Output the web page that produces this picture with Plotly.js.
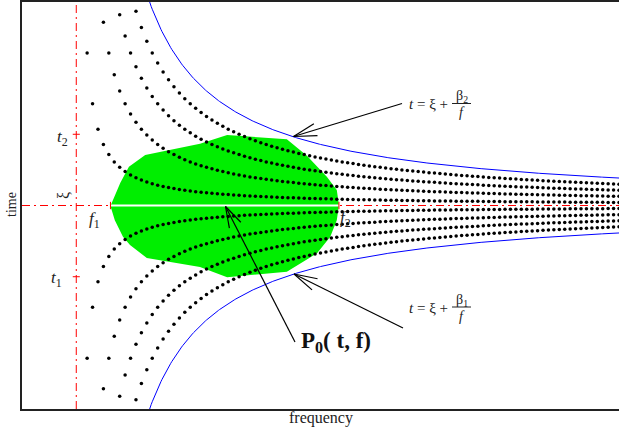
<!DOCTYPE html>
<html>
<head>
<meta charset="utf-8">
<script src="https://cdn.plot.ly/plotly-3.0.1.min.js"></script>
<style>
  html, body { margin: 0; padding: 0; background: #fff; }
  #chart { width: 619px; height: 433px; }
</style>
</head>
<body>
<div id="chart"></div>
<script>
// Dispersion sketch: curves t = xi + beta / f around the region P0(t, f).
const xi = 5;
const t1 = 3.25, t2 = 6.75;
const f1 = 0.63, f2 = 4.84;
const betaBlue = [6.75, -6.75];                    // beta2 (upper), beta1 (lower)
const betaDots = [0.75, 2.25, 3.75, 5.25, -0.75, -2.25, -3.75, -5.25];
const fDotStep = 0.1, fDotCount = 100;             // dots every 0.1 in f
const fLineStep = 0.02, fLineStart = 0.6;          // fine grid for the blue curves

const greenF = [0.63, 0.71, 0.81, 0.97, 1.27, 2.28, 2.78, 3.88, 4.25, 4.62, 4.80, 4.84,
                4.80, 4.68, 4.44, 3.88, 2.78, 2.28, 1.30, 0.99, 0.86, 0.71];
const greenT = [4.99, 5.26, 5.55, 5.95, 6.24, 6.52, 6.73, 6.63, 6.22, 5.70, 5.38, 5.01,
                4.64, 4.23, 3.83, 3.37, 3.24, 3.49, 3.71, 4.03, 4.23, 4.64];

const SERIF = "Liberation Serif";
// plot box in pixels, used to place labels / arrows
const L = 22, R = 619, T = 2, B = 409;
const px = X => (X - L) / (R - L);
const py = Y => (B - Y) / (B - T);

// the chart plots the labelled relation t = xi + beta / f
const curve = (beta, fs) => fs.map(f => xi + beta / f);
const fDots = Array.from({ length: fDotCount }, (_, i) => +((i + 1) * fDotStep).toFixed(2));
const fLine = [];
for (let f = fLineStart; f <= 10.01; f += fLineStep) fLine.push(f);

const traces = [];
traces.push({
  type: "scatter", mode: "lines", x: greenF, y: greenT, fill: "toself",
  fillcolor: "#00ee00", line: { width: 0, color: "#00ee00" }, hoverinfo: "skip",
});
for (const b of betaDots) {
  traces.push({
    type: "scatter", mode: "markers", x: fDots, y: curve(b, fDots),
    marker: { size: 3.5, color: "#000" }, hoverinfo: "skip",
  });
}
for (const b of betaBlue) {
  traces.push({
    type: "scatter", mode: "lines", x: fLine, y: curve(b, fLine),
    line: { color: "#0000ff", width: 1 }, hoverinfo: "skip",
  });
}

const RED = "#ff0000", DASH = "8px,4px,2px,4px";
const shapes = [
  { type: "line", xref: "x", yref: "y", x0: 0, x1: 0, y0: 0, y1: 10, line: { color: RED, width: 1, dash: DASH } },
  { type: "line", xref: "x", yref: "y", x0: -1, x1: 10, y0: xi, y1: xi, line: { color: RED, width: 1, dash: DASH } },
  { type: "line", xref: "x", yref: "y", x0: f1, x1: f2, y0: xi, y1: xi, line: { color: "#fff", width: 2 } },
  { type: "line", xref: "x", yref: "y", x0: -0.065, x1: 0.065, y0: t2, y1: t2, line: { color: RED, width: 1 } },
  { type: "line", xref: "x", yref: "y", x0: -0.065, x1: 0.065, y0: t1, y1: t1, line: { color: RED, width: 1 } },
  { type: "line", xref: "x", yref: "y", x0: f1, x1: f1, y0: xi - 0.09, y1: xi + 0.09, line: { color: RED, width: 1 } },
  { type: "line", xref: "x", yref: "y", x0: f2, x1: f2, y0: xi - 0.09, y1: xi + 0.09, line: { color: RED, width: 1 } },
];

// open V arrows, tail -> tip, in pixels
function arrow(x0, y0, x1, y1, len, deg) {
  const a = Math.atan2(y0 - y1, x0 - x1), s = deg * Math.PI / 180;
  const seg = (ax, ay, bx, by) => ({
    type: "line", xref: "paper", yref: "paper",
    x0: px(ax), y0: py(ay), x1: px(bx), y1: py(by), line: { color: "#000", width: 1.2 },
  });
  return [
    seg(x0, y0, x1, y1),
    seg(x1, y1, x1 + len * Math.cos(a + s), y1 + len * Math.sin(a + s)),
    seg(x1, y1, x1 + len * Math.cos(a - s), y1 + len * Math.sin(a - s)),
  ];
}
shapes.push(...arrow(402, 103.5, 293.5, 136.5, 24, 15));
shapes.push(...arrow(403, 328, 294, 274, 24, 15));
shapes.push(...arrow(295, 342, 225.5, 206.5, 22, 17));
// fraction bars
shapes.push({ type: "line", xref: "paper", yref: "paper", x0: px(452), x1: px(471), y0: py(103.5), y1: py(103.5), line: { color: "#222", width: 1 } });
shapes.push({ type: "line", xref: "paper", yref: "paper", x0: px(452), x1: px(471), y0: py(307), y1: py(307), line: { color: "#222", width: 1 } });

const ann = (X, Y, text, size, extra) => Object.assign({
  xref: "paper", yref: "paper", x: px(X), y: py(Y), text, showarrow: false,
  font: { family: SERIF, size, color: "#222" }, xanchor: "center", yanchor: "middle",
}, extra || {});

const annotations = [
  ann(12, 205, "time", 14, { textangle: -90 }),
  ann(321, 418, "frequency", 16),
  ann(70, 138, "<i>t</i><sub>2</sub>", 17, { xanchor: "right" }),
  ann(64, 279, "<i>t</i><sub>1</sub>", 17, { xanchor: "right" }),
  ann(64, 196, "ξ", 16, { textangle: -90 }),
  ann(87, 220, "<i>f</i><sub>1</sub>", 17, { xanchor: "left" }),
  ann(338, 219, "<i>f</i><sub>2</sub>", 17, { xanchor: "left" }),
  ann(450, 104, "<i>t</i> = ξ +", 15, { xanchor: "right" }),
  ann(461.5, 96, "β<sub>2</sub>", 14),
  ann(461.5, 112, "<i>f</i>", 14),
  ann(450, 308, "<i>t</i> = ξ +", 15, { xanchor: "right" }),
  ann(461.5, 300, "β<sub>1</sub>", 14),
  ann(461.5, 316, "<i>f</i>", 14),
  ann(299, 342, "<b>P<sub>0</sub>( t, f)</b>", 23, { xanchor: "left", font: { family: SERIF, size: 23, color: "#111" } }),
];

const axisBase = {
  showgrid: false, zeroline: false, showticklabels: false, ticks: "",
  showline: true, linecolor: "#222", linewidth: 2, fixedrange: true,
};

Plotly.newPlot("chart", traces, {
  width: 619, height: 433,
  margin: { l: L, r: 619 - R, t: T, b: 433 - B },
  paper_bgcolor: "#fff", plot_bgcolor: "#fff",
  showlegend: false,
  font: { family: SERIF },
  xaxis: { ...axisBase, range: [-1, 10], mirror: true },
  yaxis: { ...axisBase, range: [0, 10] },
  shapes, annotations,
}, { displayModeBar: false });
</script>
</body>
</html>
